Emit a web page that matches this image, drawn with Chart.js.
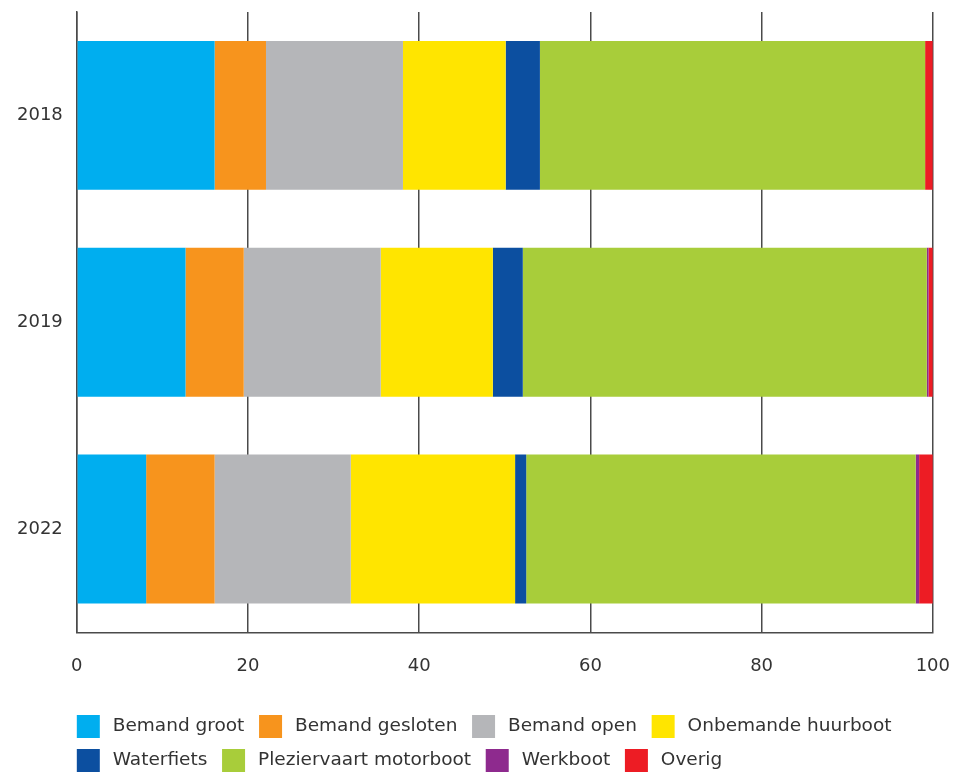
<!DOCTYPE html>
<html>
<head>
<meta charset="utf-8">
<script src="https://cdn.jsdelivr.net/npm/chart.js@4"></script>
<style>
  html, body { margin: 0; background: #fff; overflow: hidden; }
  canvas { display: block; }
</style>
</head>
<body>
<canvas id="graph" width="953" height="782"></canvas>
<script>
const years = ["2018", "2019", "2022"];
const bemandGroot = [16.1, 12.7, 8.1];
const bemandGesloten = [6.0, 6.8, 8.0];
const bemandOpen = [16.0, 16.0, 15.9];
const onbemandeHuurboot = [12.0, 13.1, 19.2];
const waterfiets = [4.0, 3.5, 1.3];
const plezierMotorboot = [45.0, 47.2, 45.5];
const werkboot = [0.0, 0.2, 0.4];
const overig = [0.9, 0.5, 1.6];
const xTicks = [0, 20, 40, 60, 80, 100];

const graph = document.getElementById('graph');
const lijn = '#4a4a4a';
const tekst = '#333333';
const lettertype = "'DejaVu Sans', sans-serif";
const legendPad = 11;
const dun = '\u2009';

function reeks(naam, waarden, kleur) {
    return { label: naam, data: waarden, backgroundColor: kleur, borderWidth: 0,
             barPercentage: 0.72, categoryPercentage: 1 };
}

// legenda begint bij de linkerkant van het plotgebied
const legendaLinks = {
    id: 'legendaLinks',
    afterLayout(chart) {
        chart.legend.left -= legendPad;
        chart.legend.right -= legendPad;
    }
};

new Chart(graph, {
    type: "bar",
    data: {
        labels: years,
        datasets: [
            reeks("Bemand groot", bemandGroot, "#00aeef"),
            reeks("Bemand gesloten", bemandGesloten, "#f7941d"),
            reeks("Bemand open", bemandOpen, "#b5b6b9"),
            reeks("Onbemande huurboot", onbemandeHuurboot, "#ffe500"),
            reeks("Waterfiets", waterfiets, "#0c4fa0"),
            reeks("Pleziervaart motorboot", plezierMotorboot, "#a8cd3a"),
            reeks("Werkboot", werkboot, "#8e2a8e"),
            reeks("Overig", overig, "#ed1c24"),
        ],
    },
    plugins: [legendaLinks],
    options: {
        indexAxis: 'y',
        responsive: false,
        animation: false,
        layout: { padding: { top: 12, right: 0, left: 17, bottom: 0 } },
        plugins: {
            tooltip: { enabled: false },
            legend: {
                position: 'bottom',
                align: 'start',
                fullSize: false,
                labels: {
                    boxWidth: 23,
                    boxHeight: 23,
                    padding: legendPad,
                    color: tekst,
                    font: { family: lettertype, size: 18.5 },
                    generateLabels: (chart) => {
                        const items = Chart.defaults.plugins.legend.labels.generateLabels(chart);
                        items.forEach(it => { it.text = dun + it.text + dun; it.lineWidth = 0; });
                        return items;
                    },
                },
            },
        },
        scales: {
            x: {
                stacked: true,
                min: 0,
                max: 100,
                afterBuildTicks: (ax) => { ax.ticks = xTicks.map(v => ({ value: v })); },
                afterFit: (ax) => { ax.height += 24; },
                grid: { color: lijn, lineWidth: 1.5, drawTicks: true, tickLength: 20, tickColor: 'rgba(0,0,0,0)' },
                border: { display: true, color: lijn, width: 1.5 },
                ticks: { padding: 3, color: tekst, font: { family: lettertype, size: 18 } },
            },
            y: {
                stacked: true,
                grid: { display: false, drawTicks: true, tickLength: 14, tickColor: 'rgba(0,0,0,0)' },
                border: { display: true, color: lijn, width: 1.5 },
                ticks: { padding: 0, color: tekst, font: { family: lettertype, size: 18 } },
            },
        },
    },
});
</script>
</body>
</html>
